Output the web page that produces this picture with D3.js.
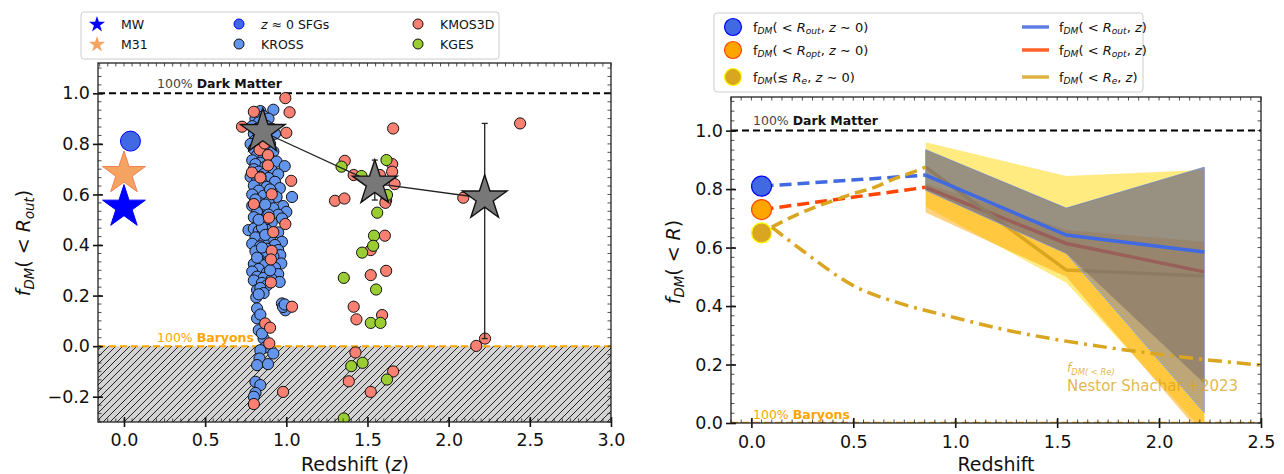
<!DOCTYPE html>
<html>
<head>
<meta charset="utf-8">
<script src="https://cdn.jsdelivr.net/npm/d3@7"></script>
<style>
  body { margin: 0; background: #fff; }
  svg { font-family: "DejaVu Sans", sans-serif; }
</style>
</head>
<body>
<svg id="fig" width="1284" height="474"></svg>
<script>
// ---------- left panel: f_DM(<R_out) of individual galaxies ----------
const krossZ = [0.84, 0.92, 0.86, 0.81, 0.89, 0.83, 0.79, 0.82, 0.88, 0.91, 0.80, 0.84, 0.93, 0.81, 0.86, 0.90, 0.83, 0.78,
  0.80, 0.85, 0.88, 0.92, 0.82, 0.86, 0.79, 0.90, 0.94, 0.84, 0.81, 0.99, 0.87, 0.80, 0.83, 0.91, 0.86, 0.95, 0.78, 0.89,
  0.82, 0.93, 0.85, 0.80, 0.88, 0.96, 0.83, 0.91, 1.035, 0.79, 0.86, 0.94, 0.81, 0.89, 0.84, 0.98, 0.79, 0.92, 0.86, 1.0,
  0.82, 0.95, 0.88, 0.80, 0.973, 0.84, 0.91, 0.86, 0.767, 0.80, 0.83, 0.88, 0.95, 0.85, 0.81, 0.90, 0.973, 0.86, 0.79, 0.93,
  0.84, 0.88, 0.95, 0.81, 0.86, 0.963, 0.92, 0.83, 0.89, 0.969, 0.80, 0.86, 0.93, 0.83, 0.79, 0.88, 0.95, 0.82, 0.86, 0.91,
  0.80, 0.959, 0.85, 0.88, 0.82, 0.84, 0.815, 0.86, 0.83, 0.973, 0.994, 0.98, 0.99, 0.82, 0.82, 0.84, 0.83, 0.86, 0.85, 0.87,
  0.84, 0.92, 0.835, 0.82, 0.887, 0.81, 0.84, 0.81, 0.80, 0.87, 0.90, 0.82, 0.85, 0.89, 0.81, 0.87, 0.84, 0.90, 0.83, 0.85];
const krossF = [0.93, 0.935, 0.91, 0.90, 0.90, 0.885, 0.87, 0.86, 0.87, 0.86, 0.84, 0.83, 0.84, 0.815, 0.81, 0.80, 0.80, 0.80,
  0.78, 0.77, 0.785, 0.77, 0.755, 0.745, 0.735, 0.74, 0.73, 0.725, 0.72, 0.712, 0.71, 0.70, 0.69, 0.695, 0.68, 0.68, 0.67, 0.665,
  0.655, 0.65, 0.645, 0.635, 0.63, 0.625, 0.615, 0.61, 0.59, 0.60, 0.595, 0.59, 0.575, 0.57, 0.565, 0.554, 0.555, 0.545, 0.54, 0.531,
  0.53, 0.52, 0.515, 0.51, 0.505, 0.495, 0.49, 0.48, 0.459, 0.465, 0.455, 0.46, 0.45, 0.44, 0.43, 0.425, 0.413, 0.41, 0.405, 0.40,
  0.395, 0.385, 0.38, 0.375, 0.365, 0.36, 0.355, 0.345, 0.335, 0.327, 0.325, 0.32, 0.31, 0.305, 0.295, 0.29, 0.285, 0.275, 0.27, 0.265,
  0.26, 0.254, 0.25, 0.24, 0.222, 0.23, 0.193, 0.21, 0.205, 0.169, 0.142, 0.155, 0.165, 0.149, 0.11, 0.125, 0.063, 0.03, 0.05, -0.005,
  -0.016, -0.029, -0.049, -0.075, -0.071, -0.141, -0.154, -0.185, -0.20, 0.56, 0.62, 0.35, 0.47, 0.52, 0.58, 0.44, 0.67, 0.30, 0.50, 0.39];

const kmosZ = [0.994, 1.02, 0.80, 0.727, 1.00, 0.835, 0.887, 0.887, 0.788, 0.84, 1.03, 0.91, 0.80, 0.994, 0.893, 0.92, 0.91,
  0.905, 0.905, 1.035, 0.87, 0.90, 0.895, 0.98, 0.80, 0.866,
  1.658, 1.36, 1.415, 1.652, 1.652, 1.667, 1.615, 1.30, 1.358, 2.09, 2.44, 1.607, 1.52, 1.615, 1.52, 1.415, 1.432, 1.59,
  2.224, 2.17, 1.426, 1.385, 1.658, 1.52, 1.576, 1.61];
const kmosF = [0.981, 0.925, 0.927, 0.868, 0.844, 0.776, 0.756, 0.715, 0.687, 0.667, 0.654, 0.601, 0.562, 0.483, 0.508, 0.451, 0.377,
  0.343, 0.252, 0.156, 0.09, 0.073, 0.011, -0.181, -0.229, 0.802,
  0.861, 0.733, 0.677, 0.72, 0.69, 0.641, 0.578, 0.575, 0.584, 0.587, 0.881, 0.437, 0.38, 0.298, 0.281, 0.156, 0.106, 0.123,
  0.03, 0.001, -0.025, -0.139, -0.10, -0.181, 0.677, 0.567];

const kgesZ = [1.617, 1.34, 1.463, 1.62, 1.56, 1.54, 1.535, 1.467, 1.354, 1.553, 1.52, 1.58, 1.40, 1.47, 1.62, 1.354];
const kgesF = [0.736, 0.71, 0.673, 0.598, 0.528, 0.437, 0.397, 0.37, 0.27, 0.224, 0.092, 0.092, -0.079, -0.066, -0.132, -0.286];

const localZ = [0.0, 0.0, 0.04];      // MW, M31, z~0 SFGs
const localF = [0.55, 0.683, 0.811];

// median values in redshift bins
const binZ = [0.855, 1.545, 2.222];
const binF = [0.848, 0.644, 0.585];
const binLo = [0.83, 0.578, 0.03];
const binHi = [0.87, 0.736, 0.881];

// ---------- right panel: f_DM(<R) vs redshift ----------
const zeroZ = 0.05;
const zeroF = [0.81, 0.73, 0.65];       // R_out, R_opt, R_e
const outF = [0.848, 0.643, 0.585];
const optF = [0.806, 0.614, 0.517];
const reF = [0.875, 0.523, 0.503];
const yellowHi = [0.96, 0.845, 0.865], yellowLo = [0.74, 0.48, -0.03];
const orangeHi = [0.82, 0.66, 0.62], orangeLo = [0.72, 0.50, -0.05];
const grayHi = [0.935, 0.735, 0.875], grayLo = [0.796, 0.58, 0.135];
const blueLo = [0.796, 0.58, 0.035];
const reLowZ = [0.1, 0.2, 0.3, 0.4, 0.5, 0.6, 0.7, 0.8, 0.855];
const reLowF = [0.67, 0.705, 0.735, 0.76, 0.785, 0.805, 0.835, 0.86, 0.875];
const nestorZ = [0.1, 0.25, 0.5, 0.75, 1.0, 1.25, 1.5, 1.75, 2.0, 2.25, 2.5];
const nestorF = [0.67, 0.59, 0.47, 0.405, 0.36, 0.318, 0.285, 0.258, 0.235, 0.215, 0.198];

const xLTicks = [0, 0.5, 1, 1.5, 2, 2.5, 3];
const yLTicks = [-0.2, 0, 0.2, 0.4, 0.6, 0.8, 1.0];
const xRTicks = [0, 0.5, 1, 1.5, 2, 2.5];
const yRTicks = [0, 0.2, 0.4, 0.6, 0.8, 1.0];

const svg = d3.select("#fig");
const FONT = "DejaVu Sans";

// text with italic parts and subscripts, roughly like matplotlib mathtext
function mathText(sel, parts, size) {
  let down = false;
  parts.forEach(([s, kind]) => {
    const t = sel.append("tspan").text(s);
    if (kind !== "n") t.attr("font-style", "italic");
    if (kind === "sub") {
      t.attr("font-size", size * 0.7);
      if (!down) { t.attr("dy", size * 0.22); down = true; }
    } else if (down) {
      t.attr("dy", -size * 0.22);
      down = false;
    }
  });
  return sel;
}

// axes frame: major ticks in-out on left/bottom, minor ticks inward on every side
function frame(g, x, y, xTicks, yTicks, pad) {
  const [xa, xb] = x.range();
  const [yb, ya] = y.range();
  const xd = x.domain(), yd = y.domain();
  const minorX = d3.range(Math.ceil(xd[0] / 0.05 - 1e-6), Math.floor(xd[1] / 0.05 + 1e-6) + 1).map((i) => i * 0.05);
  const minorY = d3.range(Math.ceil(yd[0] * 30 - 1e-6), Math.floor(yd[1] * 30 + 1e-6) + 1).map((i) => i / 30);

  const mg = g.append("g").attr("stroke", "#222").attr("stroke-width", 0.8);
  minorX.forEach((v) => {
    mg.append("line").attr("x1", x(v)).attr("x2", x(v)).attr("y1", ya).attr("y2", ya + 3.5);
    mg.append("line").attr("x1", x(v)).attr("x2", x(v)).attr("y1", yb).attr("y2", yb - 3.5);
  });
  minorY.forEach((v) => {
    mg.append("line").attr("y1", y(v)).attr("y2", y(v)).attr("x1", xa).attr("x2", xa + 3.5);
    mg.append("line").attr("y1", y(v)).attr("y2", y(v)).attr("x1", xb).attr("x2", xb - 3.5);
  });

  g.append("g")
    .attr("transform", `translate(0,${yb})`)
    .call(d3.axisBottom(x).tickValues(xTicks).tickFormat(d3.format(".1f")).tickSizeInner(5).tickSizeOuter(0).tickPadding(pad))
    .attr("font-family", FONT).attr("font-size", 17.5)
    .call((a) => a.select(".domain").remove())
    .call((a) => a.selectAll(".tick line").attr("y1", -5).attr("stroke", "#111").attr("stroke-width", 1.6))
    .call((a) => a.selectAll("text").attr("fill", "#111"));

  g.append("g")
    .attr("transform", `translate(${xa},0)`)
    .call(d3.axisLeft(y).tickValues(yTicks).tickFormat(d3.format(".1f")).tickSizeInner(5).tickSizeOuter(0).tickPadding(3))
    .attr("font-family", FONT).attr("font-size", 17.5)
    .call((a) => a.select(".domain").remove())
    .call((a) => a.selectAll(".tick line").attr("x1", 5).attr("stroke", "#111").attr("stroke-width", 1.6))
    .call((a) => a.selectAll("text").attr("fill", "#111"));

  g.append("rect")
    .attr("x", xa).attr("y", ya).attr("width", xb - xa).attr("height", yb - ya)
    .attr("fill", "none").attr("stroke", "#222").attr("stroke-width", 1.3);
}

function refLabel(g, x, y, first, second, color, firstColor) {
  const t = g.append("text").attr("x", x).attr("y", y).attr("font-size", 12.5).attr("fill", color);
  t.append("tspan").text(first).attr("fill", firstColor);
  t.append("tspan").text(second).attr("font-weight", "bold");
}

const defs = svg.append("defs");
const hatch = defs.append("pattern")
  .attr("id", "hatch").attr("patternUnits", "userSpaceOnUse").attr("width", 7).attr("height", 7);
hatch.append("rect").attr("width", 7).attr("height", 7).attr("fill", "#d3d3d3");
hatch.append("path").attr("d", "M-1,8 L8,-1 M-2,2 L2,-2 M5,9 L9,5")
  .attr("stroke", "#111").attr("stroke-width", 0.9);

// =========================== LEFT ===========================
const xL = d3.scaleLinear().domain([-0.16, 3.0]).range([98, 611]);
const yL = d3.scaleLinear().domain([-0.3, 1.12]).range([422, 63]);

defs.append("clipPath").attr("id", "clipL").append("rect")
  .attr("x", 98).attr("y", 63).attr("width", 513).attr("height", 359);
const left = svg.append("g");
const plotL = left.append("g").attr("clip-path", "url(#clipL)");

plotL.append("rect")
  .attr("x", xL(-0.16)).attr("y", yL(0)).attr("width", xL(3.0) - xL(-0.16)).attr("height", yL(-0.3) - yL(0))
  .attr("fill", "url(#hatch)");

plotL.append("line")
  .attr("x1", xL(-0.16)).attr("x2", xL(3.0)).attr("y1", yL(1)).attr("y2", yL(1))
  .attr("stroke", "#000").attr("stroke-width", 2).attr("stroke-dasharray", "7,4");
plotL.append("line")
  .attr("x1", xL(-0.16)).attr("x2", xL(3.0)).attr("y1", yL(0)).attr("y2", yL(0))
  .attr("stroke", "#FFA500").attr("stroke-width", 2).attr("stroke-dasharray", "7,4");

function dots(g, zs, fs, fill) {
  g.append("g").selectAll("circle").data(zs).join("circle")
    .attr("cx", (d) => xL(d)).attr("cy", (d, i) => yL(fs[i])).attr("r", 5.6)
    .attr("fill", fill).attr("stroke", "#111").attr("stroke-width", 1);
}
dots(plotL, krossZ, krossF, "#6495ED");
dots(plotL, kmosZ, kmosF, "#FA8072");
dots(plotL, kgesZ, kgesF, "#9ACD32");

// local references
const star = (r) => d3.symbol(d3.symbolStar, (r * r) / 0.8908)();
plotL.append("path").attr("d", star(22.5))
  .attr("transform", `translate(${xL(localZ[0])},${yL(localF[0])})`)
  .attr("fill", "#0000FF").attr("stroke", "#0000FF").attr("stroke-width", 1);
plotL.append("path").attr("d", star(22.5))
  .attr("transform", `translate(${xL(localZ[1])},${yL(localF[1])})`)
  .attr("fill", "#F4A460").attr("stroke", "#F08050").attr("stroke-width", 1);
plotL.append("circle").attr("cx", xL(localZ[2])).attr("cy", yL(localF[2])).attr("r", 10)
  .attr("fill", "#4169E1").attr("stroke", "#0000FF").attr("stroke-width", 1);

// binned medians with error bars
const bins = plotL.append("g");
bins.append("path")
  .attr("d", d3.line().x((d) => xL(d)).y((d, i) => yL(binF[i]))(binZ))
  .attr("fill", "none").attr("stroke", "#222").attr("stroke-width", 1.3);
binZ.forEach((z, i) => {
  const e = bins.append("g").attr("stroke", "#222").attr("stroke-width", 1.3);
  e.append("line").attr("x1", xL(z)).attr("x2", xL(z)).attr("y1", yL(binLo[i])).attr("y2", yL(binHi[i]));
  e.append("line").attr("x1", xL(z) - 3).attr("x2", xL(z) + 3).attr("y1", yL(binLo[i])).attr("y2", yL(binLo[i]));
  e.append("line").attr("x1", xL(z) - 3).attr("x2", xL(z) + 3).attr("y1", yL(binHi[i])).attr("y2", yL(binHi[i]));
});
bins.selectAll("path.star").data(binZ).join("path").attr("class", "star")
  .attr("d", star(23.5))
  .attr("transform", (d, i) => `translate(${xL(d)},${yL(binF[i])})`)
  .attr("fill", "#787878").attr("stroke", "#111").attr("stroke-width", 1.4);

refLabel(left, 157, 87.5, "100% ", "Dark Matter", "#111", "#444");
refLabel(left, 157, 342, "100% ", "Baryons", "#FFA500", "#FFA500");

frame(left, xL, yL, xLTicks, yLTicks, 7);

left.append("text").attr("x", 355).attr("y", 471).attr("text-anchor", "middle")
  .attr("font-size", 19).attr("fill", "#111")
  .call((t) => mathText(t, [["Redshift (", "n"], ["z", "i"], [")", "n"]], 19));
left.append("text").attr("transform", "translate(30,243) rotate(-90)").attr("text-anchor", "middle")
  .attr("font-size", 19).attr("fill", "#111")
  .call((t) => mathText(t, [["f", "i"], ["DM", "sub"], ["( < ", "n"], ["R", "i"], ["out", "sub"], [")", "n"]], 19));

// legend
const legL = left.append("g").attr("font-size", 12.5).attr("fill", "#111");
legL.append("rect").attr("x", 81).attr("y", 12).attr("width", 418).attr("height", 47).attr("rx", 3)
  .attr("fill", "#fff").attr("stroke", "#ccc");
legL.append("path").attr("d", star(8.5)).attr("transform", "translate(97,24.5)").attr("fill", "#0000FF");
legL.append("path").attr("d", star(8.5)).attr("transform", "translate(97,44.5)").attr("fill", "#F4A460");
legL.append("circle").attr("cx", 239).attr("cy", 24).attr("r", 5).attr("fill", "#4169E1").attr("stroke", "#0000FF");
legL.append("circle").attr("cx", 239).attr("cy", 44).attr("r", 5).attr("fill", "#6495ED").attr("stroke", "#111");
legL.append("circle").attr("cx", 418).attr("cy", 24).attr("r", 5).attr("fill", "#FA8072").attr("stroke", "#111");
legL.append("circle").attr("cx", 418).attr("cy", 44).attr("r", 5).attr("fill", "#9ACD32").attr("stroke", "#111");
legL.append("text").attr("x", 121).attr("y", 28.5).text("MW");
legL.append("text").attr("x", 121).attr("y", 48.5).text("M31");
legL.append("text").attr("x", 261).attr("y", 28.5)
  .call((t) => mathText(t, [["z", "i"], [" \u2248 0 SFGs", "n"]], 12.5));
legL.append("text").attr("x", 261).attr("y", 48.5).text("KROSS");
legL.append("text").attr("x", 440).attr("y", 28.5).text("KMOS3D");
legL.append("text").attr("x", 440).attr("y", 48.5).text("KGES");

// =========================== RIGHT ===========================
const xR = d3.scaleLinear().domain([-0.1, 2.5]).range([731, 1261]);
const yR = d3.scaleLinear().domain([0, 1.115]).range([423, 97]);

defs.append("clipPath").attr("id", "clipR").append("rect")
  .attr("x", 731).attr("y", 97).attr("width", 530).attr("height", 326);
const right = svg.append("g");
const plotR = right.append("g").attr("clip-path", "url(#clipR)");

const band = (hi, lo) => d3.area().x((d) => xR(d)).y0((d, i) => yR(lo[i])).y1((d, i) => yR(hi[i]))(binZ);
const lineR = (zs, fs) => d3.line().x((d) => xR(d)).y((d, i) => yR(fs[i]))(zs);

plotR.append("path").attr("d", band(yellowHi, yellowLo)).attr("fill", "#FFD700").attr("fill-opacity", 0.5);
plotR.append("path").attr("d", band(orangeHi, orangeLo)).attr("fill", "#FFA500").attr("fill-opacity", 0.5);
plotR.append("path").attr("d", lineR(binZ, optF)).attr("fill", "none").attr("stroke", "#FF4500").attr("stroke-width", 3.5);
plotR.append("path").attr("d", lineR(binZ, reF)).attr("fill", "none").attr("stroke", "#DAA520").attr("stroke-width", 3.5);
plotR.append("path").attr("d", band(grayHi, blueLo)).attr("fill", "#4169E1").attr("fill-opacity", 0.35)
  .attr("stroke", "#8FAADC").attr("stroke-width", 1);
plotR.append("path").attr("d", band(grayHi, grayLo)).attr("fill", "#7a6a66").attr("fill-opacity", 0.55);
plotR.append("path").attr("d", lineR(binZ, outF)).attr("fill", "none").attr("stroke", "#4169E1").attr("stroke-width", 3.5);

// links to z~0 and the Nestor Shachar+2023 trend
plotR.append("path").attr("d", lineR([zeroZ, binZ[0]], [zeroF[0], outF[0]]))
  .attr("fill", "none").attr("stroke", "#4169E1").attr("stroke-width", 3.5).attr("stroke-dasharray", "12,6");
plotR.append("path").attr("d", lineR([zeroZ, binZ[0]], [zeroF[1], optF[0]]))
  .attr("fill", "none").attr("stroke", "#FF4500").attr("stroke-width", 3.5).attr("stroke-dasharray", "12,6");
plotR.append("path").attr("d", d3.line().curve(d3.curveMonotoneX).x((d) => xR(d)).y((d, i) => yR(reLowF[i]))(reLowZ))
  .attr("fill", "none").attr("stroke", "#DAA520").attr("stroke-width", 3.5).attr("stroke-dasharray", "12,6");
plotR.append("path").attr("d", d3.line().curve(d3.curveMonotoneX).x((d) => xR(d)).y((d, i) => yR(nestorF[i]))(nestorZ))
  .attr("fill", "none").attr("stroke", "#DAA520").attr("stroke-width", 3.5).attr("stroke-dasharray", "14,6,3,6");

const zeroStyle = [["#4169E1", "#0000FF"], ["#FFA500", "#FF4500"], ["#DAA520", "#FFFF00"]];
plotR.selectAll("circle.zero").data(zeroF).join("circle").attr("class", "zero")
  .attr("cx", xR(zeroZ)).attr("cy", (d) => yR(d)).attr("r", 10)
  .attr("fill", (d, i) => zeroStyle[i][0]).attr("stroke", (d, i) => zeroStyle[i][1]).attr("stroke-width", 1.2);

plotR.append("line")
  .attr("x1", xR(-0.1)).attr("x2", xR(2.5)).attr("y1", yR(1)).attr("y2", yR(1))
  .attr("stroke", "#000").attr("stroke-width", 2).attr("stroke-dasharray", "7,4");
plotR.append("line")
  .attr("x1", xR(-0.1)).attr("x2", xR(2.5)).attr("y1", yR(0)).attr("y2", yR(0))
  .attr("stroke", "#FFA500").attr("stroke-width", 2.5).attr("stroke-dasharray", "7,4");

refLabel(right, 753, 124.5, "100% ", "Dark Matter", "#111", "#444");
refLabel(right, 753, 419, "100% ", "Baryons", "#FFA500", "#FFA500");

const note = right.append("g").attr("fill", "#DAA520").attr("fill-opacity", 0.8);
note.append("text").attr("x", 1067).attr("y", 372).attr("font-size", 12)
  .call((t) => mathText(t, [["f", "i"], ["DM( < R", "sub"], ["e", "sub"], [")", "sub"]], 12));
note.append("text").attr("x", 1067).attr("y", 391).attr("font-size", 15).text("Nestor Shachar +2023");

frame(right, xR, yR, xRTicks, yRTicks, 7.5);

right.append("text").attr("x", 996).attr("y", 471).attr("text-anchor", "middle")
  .attr("font-size", 19).attr("fill", "#111").text("Redshift");
right.append("text").attr("transform", "translate(680,262) rotate(-90)").attr("text-anchor", "middle")
  .attr("font-size", 19).attr("fill", "#111")
  .call((t) => mathText(t, [["f", "i"], ["DM", "sub"], ["( < ", "n"], ["R", "i"], [")", "n"]], 19));

// legend
const legR = right.append("g").attr("font-size", 13).attr("fill", "#111");
legR.append("rect").attr("x", 714).attr("y", 13).attr("width", 429).attr("height", 79).attr("rx", 3)
  .attr("fill", "#fff").attr("stroke", "#ccc");
const rowY = [27, 50, 77];
legR.selectAll("circle").data(zeroStyle).join("circle")
  .attr("cx", 733).attr("cy", (d, i) => rowY[i]).attr("r", 8.5)
  .attr("fill", (d) => d[0]).attr("stroke", (d) => d[1]).attr("stroke-width", 1.2);
const lineCols = ["#4169E1", "#FF4500", "#DAA520"];
legR.selectAll("line").data(lineCols).join("line")
  .attr("x1", 1022).attr("x2", 1049).attr("y1", (d, i) => rowY[i]).attr("y2", (d, i) => rowY[i])
  .attr("stroke", (d) => d).attr("stroke-opacity", 0.85).attr("stroke-width", 3.5);
const radii = [["out", " < "], ["opt", " < "], ["e", "\u2272 "]];
radii.forEach(([r, op], i) => {
  legR.append("text").attr("x", 753).attr("y", rowY[i] + 4.5)
    .call((t) => mathText(t, [["f", "n"], ["DM", "sub"], ["(" + op, "n"], ["R", "i"], [r, "sub"], [", ", "n"], ["z", "i"], [" \u223C 0)", "n"]], 13));
  legR.append("text").attr("x", 1059).attr("y", rowY[i] + 4.5)
    .call((t) => mathText(t, [["f", "n"], ["DM", "sub"], ["( < ", "n"], ["R", "i"], [r, "sub"], [", ", "n"], ["z", "i"], [")", "n"]], 13));
});
</script>
</body>
</html>
